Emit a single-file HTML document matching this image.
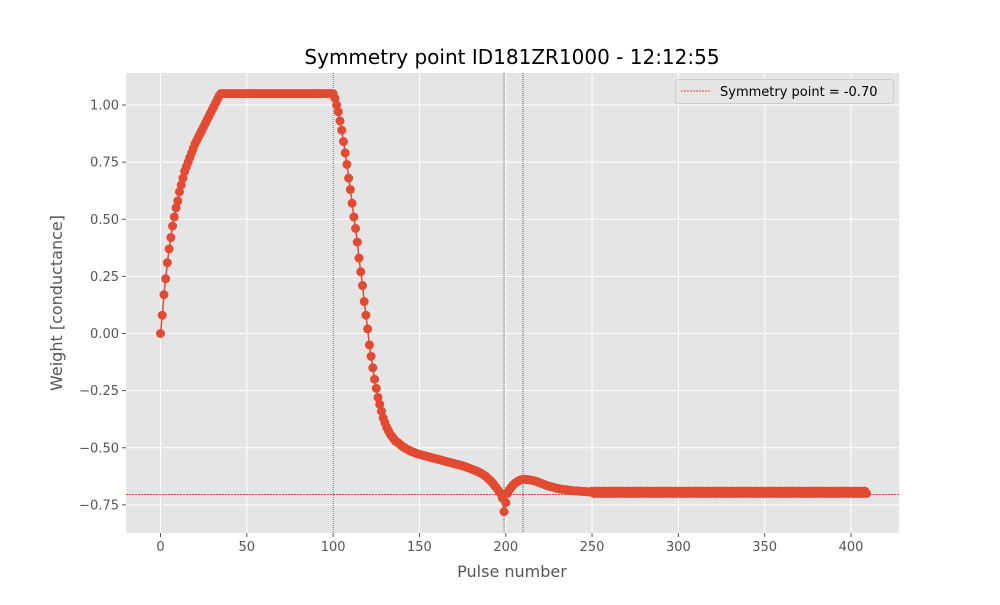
<!DOCTYPE html>
<html><head><meta charset="utf-8"><style>
html,body{margin:0;padding:0;background:#fff;}
svg text{font-family:"DejaVu Sans","Liberation Sans",sans-serif;}
</style></head><body>
<svg id="chart" width="1000" height="600" viewBox="0 0 1000 600" xmlns="http://www.w3.org/2000/svg">
<rect x="0" y="0" width="1000" height="600" fill="#fff"/>
<rect x="126" y="73" width="773" height="460" fill="#e5e5e5"/>
<g id="grid"></g>
<g id="refs"></g>
<g id="series"></g>
<g id="axes"></g>
<text x="512" y="64" font-size="20" text-anchor="middle" fill="#000">Symmetry point ID181ZR1000 - 12:12:55</text>
<text x="512" y="577" font-size="16" text-anchor="middle" fill="#555">Pulse number</text>
<text x="62" y="303" font-size="16" text-anchor="middle" fill="#555" transform="rotate(-90 62 303)">Weight [conductance]</text>
<g>
<rect x="675.5" y="79.5" width="218" height="24" rx="3" fill="#e5e5e5" fill-opacity="0.8" stroke="#ccc"/>
<line x1="681" y1="91" x2="710" y2="91" stroke="#ff0000" stroke-width="0.8" stroke-dasharray="2,1"/>
<text x="720" y="96" font-size="13" fill="#000">Symmetry point = -0.70</text>
</g>
</svg>
<script>
const xTicks=[0,50,100,150,200,250,300,350,400];
const yTicks=[-0.75,-0.5,-0.25,0,0.25,0.5,0.75,1.0];
const yTickLabels=["\u22120.75","\u22120.50","\u22120.25","0.00","0.25","0.50","0.75","1.00"];
const vLines=[100,199,210];
const symmetryPoint=-0.705;
const weights=[
0,0.08,0.17,0.24,0.31,0.37,0.42,0.47,0.51,0.55,
0.58,0.62,0.65,0.68,0.71,0.73,0.75,0.77,0.79,0.81,
0.83,0.845,0.86,0.875,0.89,0.905,0.92,0.935,0.95,0.965,
0.98,0.995,1.01,1.025,1.04,1.05,1.05,1.05,1.05,1.05,
1.05,1.05,1.05,1.05,1.05,1.05,1.05,1.05,1.05,1.05,
1.05,1.05,1.05,1.05,1.05,1.05,1.05,1.05,1.05,1.05,
1.05,1.05,1.05,1.05,1.05,1.05,1.05,1.05,1.05,1.05,
1.05,1.05,1.05,1.05,1.05,1.05,1.05,1.05,1.05,1.05,
1.05,1.05,1.05,1.05,1.05,1.05,1.05,1.05,1.05,1.05,
1.05,1.05,1.05,1.05,1.05,1.05,1.05,1.05,1.05,1.05,
1.05,1.03,1.00,0.97,0.93,0.89,0.84,0.79,0.74,0.68,
0.63,0.57,0.51,0.46,0.40,0.33,0.27,0.21,0.14,0.08,
0.02,-0.05,-0.10,-0.15,-0.20,-0.24,-0.28,-0.31,-0.34,-0.37,
-0.39,-0.41,-0.425,-0.44,-0.45,-0.46,-0.47,-0.475,-0.48,-0.487,
-0.493,-0.498,-0.503,-0.507,-0.511,-0.515,-0.518,-0.521,-0.524,-0.527,
-0.529,-0.531,-0.533,-0.535,-0.537,-0.539,-0.541,-0.543,-0.545,-0.547,
-0.549,-0.551,-0.553,-0.555,-0.557,-0.559,-0.561,-0.563,-0.565,-0.567,
-0.569,-0.571,-0.573,-0.575,-0.577,-0.579,-0.581,-0.584,-0.587,-0.590,
-0.593,-0.596,-0.599,-0.602,-0.605,-0.609,-0.613,-0.618,-0.623,-0.629,
-0.636,-0.643,-0.651,-0.66,-0.67,-0.68,-0.69,-0.70,-0.72,-0.78,
-0.74,-0.70,-0.685,-0.675,-0.665,-0.658,-0.652,-0.647,-0.643,-0.640,
-0.638,-0.638,-0.639,-0.640,-0.641,-0.642,-0.644,-0.646,-0.648,-0.651,
-0.654,-0.657,-0.660,-0.663,-0.666,-0.668,-0.670,-0.672,-0.674,-0.676,
-0.678,-0.680,-0.681,-0.682,-0.683,-0.684,-0.685,-0.686,-0.687,-0.688,
-0.689,-0.689,-0.690,-0.690,-0.691,-0.691,-0.692,-0.692,-0.693,-0.693,
-0.69,-0.70,-0.69,-0.70,-0.69,-0.70,-0.69,-0.70,-0.69,-0.70,
-0.69,-0.70,-0.69,-0.70,-0.69,-0.70,-0.69,-0.70,-0.69,-0.70,
-0.69,-0.70,-0.69,-0.70,-0.69,-0.70,-0.69,-0.70,-0.69,-0.70,
-0.69,-0.70,-0.69,-0.70,-0.69,-0.70,-0.69,-0.70,-0.69,-0.70,
-0.69,-0.70,-0.69,-0.70,-0.69,-0.70,-0.69,-0.70,-0.69,-0.70,
-0.69,-0.70,-0.69,-0.70,-0.69,-0.70,-0.69,-0.70,-0.69,-0.70,
-0.69,-0.70,-0.69,-0.70,-0.69,-0.70,-0.69,-0.70,-0.69,-0.70,
-0.69,-0.70,-0.69,-0.70,-0.69,-0.70,-0.69,-0.70,-0.69,-0.70,
-0.69,-0.70,-0.69,-0.70,-0.69,-0.70,-0.69,-0.70,-0.69,-0.70,
-0.69,-0.70,-0.69,-0.70,-0.69,-0.70,-0.69,-0.70,-0.69,-0.70,
-0.69,-0.70,-0.69,-0.70,-0.69,-0.70,-0.69,-0.70,-0.69,-0.70,
-0.69,-0.70,-0.69,-0.70,-0.69,-0.70,-0.69,-0.70,-0.69,-0.70,
-0.69,-0.70,-0.69,-0.70,-0.69,-0.70,-0.69,-0.70,-0.69,-0.70,
-0.69,-0.70,-0.69,-0.70,-0.69,-0.70,-0.69,-0.70,-0.69,-0.70,
-0.69,-0.70,-0.69,-0.70,-0.69,-0.70,-0.69,-0.70,-0.69,-0.70,
-0.69,-0.70,-0.69,-0.70,-0.69,-0.70,-0.69,-0.70,-0.69,-0.70
];
const NS='http://www.w3.org/2000/svg';
const X0=126,X1=899,Y0=73,Y1=533;
function xs(v){return 160.5+v*(851-160.5)/400;}
function ys(v){return 333.5-v*228.5;}
function mk(tag,attrs,parent){const e=document.createElementNS(NS,tag);for(const k in attrs)e.setAttribute(k,attrs[k]);parent.appendChild(e);return e;}
const grid=document.getElementById('grid'),axes=document.getElementById('axes'),refs=document.getElementById('refs'),series=document.getElementById('series');
xTicks.forEach(t=>{
  const x=xs(t);
  const g=mk('line',{x1:x,y1:Y0,x2:x,y2:Y1,stroke:'#fff','stroke-width':1},grid);
  
  
  const tk=mk('line',{x1:x,y1:Y1,x2:x,y2:Y1+4,stroke:'#555','stroke-width':1},axes);
  
  
  const l=mk('text',{x:x,y:Y1+18,'font-size':13,'text-anchor':'middle',fill:'#555'},axes);
  l.textContent=String(t);
  
  
});
yTicks.forEach((t,i)=>{
  const y=ys(t);
  const g=mk('line',{x1:X0,y1:y,x2:X1,y2:y,stroke:'#fff','stroke-width':1},grid);
  
  
  const tk=mk('line',{x1:X0-4,y1:y,x2:X0,y2:y,stroke:'#555','stroke-width':1},axes);
  
  
  const l=mk('text',{x:X0-7,y:y+4.5,'font-size':13,'text-anchor':'end',fill:'#555'},axes);
  l.textContent=yTickLabels[i];
  
  
});
vLines.forEach(v=>{
  const l=mk('line',{x1:xs(v),y1:Y0,x2:xs(v),y2:Y1,stroke:'#000','stroke-width':0.6,'stroke-dasharray':'1,1'},refs);
  
  
});
const hl=mk('line',{x1:X0,y1:ys(symmetryPoint),x2:X1,y2:ys(symmetryPoint),stroke:'#ff0000','stroke-width':0.8,'stroke-dasharray':'2,1'},refs);


const pts=weights.map((w,i)=>xs(i).toFixed(2)+','+ys(w).toFixed(2)).join(' ');
const pl=mk('polyline',{points:pts,fill:'none',stroke:'#E24A33','stroke-width':1.5},series);


weights.forEach((w,i)=>{
  const c=mk('circle',{cx:xs(i),cy:ys(w),r:4.5,fill:'#E24A33'},series);
  
  
});
</script>
</body></html>
